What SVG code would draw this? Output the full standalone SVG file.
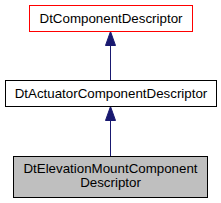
<svg xmlns="http://www.w3.org/2000/svg" width="221" height="203" viewBox="0 0 221 203">
<style>
text{font-family:"Liberation Sans",Arial,sans-serif;font-size:13.33px;text-anchor:middle;fill:#000}
.box{fill:#fff;stroke:#000;stroke-width:1}
.edge{stroke:#191970;stroke-width:1;fill:none}
.head{fill:#191970;stroke:#191970}
</style>
<rect width="221" height="203" fill="#fff"/>
<g id="connectors">
<line class="edge" x1="110.5" y1="45" x2="110.5" y2="80"/>
<polygon class="head" points="110.5,31.5 105.5,45.5 115.5,45.5"/>
<line class="edge" x1="110.5" y1="120" x2="110.5" y2="156"/>
<polygon class="head" points="110.5,106.5 105.5,120.5 115.5,120.5"/>
</g>
<g id="DtComponentDescriptor">
<rect class="box" x="29.5" y="5.5" width="163" height="26" style="stroke:#ff0000"/>
<text x="111" y="23">DtComponentDescriptor</text>
</g>
<g id="DtActuatorComponentDescriptor">
<rect class="box" x="5.5" y="80.5" width="211" height="26"/>
<text x="111" y="98">DtActuatorComponentDescriptor</text>
</g>
<g id="DtElevationMountComponentDescriptor">
<rect class="box" x="13.5" y="156.5" width="194" height="41" style="fill:#bfbfbf"/>
<text x="110.5" y="173">DtElevationMountComponent</text>
<text x="110.5" y="187">Descriptor</text>
</g>
</svg>
